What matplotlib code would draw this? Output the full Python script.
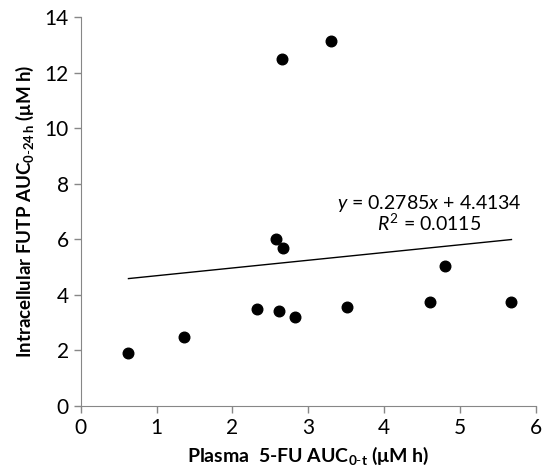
import matplotlib
matplotlib.use("Agg")
import matplotlib.pyplot as plt
import numpy as np

plasma_auc = [0.63, 1.36, 2.33, 2.62, 2.82, 2.57, 2.67, 2.66, 3.30, 3.51, 4.61, 4.80, 5.68]
futp_auc = [1.92, 2.50, 3.49, 3.42, 3.22, 6.03, 5.69, 12.48, 13.16, 3.55, 3.73, 5.04, 3.76]
slope = 0.2785
intercept = 4.4134
r_squared = 0.0115

plt.rcParams["font.family"] = ["Lato", "DejaVu Sans"]
plt.rcParams["mathtext.fontset"] = "custom"
plt.rcParams["mathtext.rm"] = "Lato"
plt.rcParams["mathtext.it"] = "Lato:italic"
plt.rcParams["mathtext.bf"] = "Lato:bold"
plt.rcParams["mathtext.default"] = "regular"

axis_grey = "#878787"

fig = plt.figure(figsize=(5.43, 4.70), dpi=100)
ax = fig.add_axes([0.1486, 0.1362, 0.838, 0.827])

ax.scatter(plasma_auc, futp_auc, s=58, color="black", zorder=3)

x = np.array([min(plasma_auc), max(plasma_auc)])
ax.plot(x, slope * x + intercept, color="black", lw=1)

ax.text(4.6, 7.3, "$\\mathit{y}$ = %.4f$\\mathit{x}$ + %.4f" % (slope, intercept),
        ha="center", va="center", fontsize=14)
ax.text(4.6, 6.6, "$\\mathit{R}^2$ = %.4f" % r_squared,
        ha="center", va="center", fontsize=14)

ax.set_xlim(0, 6)
ax.set_ylim(0, 14)
ax.set_xticks(range(0, 7))
ax.set_yticks(range(0, 15, 2))

for side in ["top", "right"]:
    ax.spines[side].set_visible(False)
for side in ["left", "bottom"]:
    ax.spines[side].set_color(axis_grey)
ax.tick_params(colors=axis_grey, labelcolor="black", labelsize=15, length=5, width=1)

ax.set_xlabel("Plasma  5-FU AUC$_{0\\text{-}t}$ (μM h)", fontsize=14, fontweight="bold", labelpad=5)
ax.set_ylabel("Intracellular FUTP AUC$_{0\\text{-}24\\,h}$ (μM h)", fontsize=13.5, fontweight="bold", labelpad=6)

fig.savefig("out.png", dpi=100)
